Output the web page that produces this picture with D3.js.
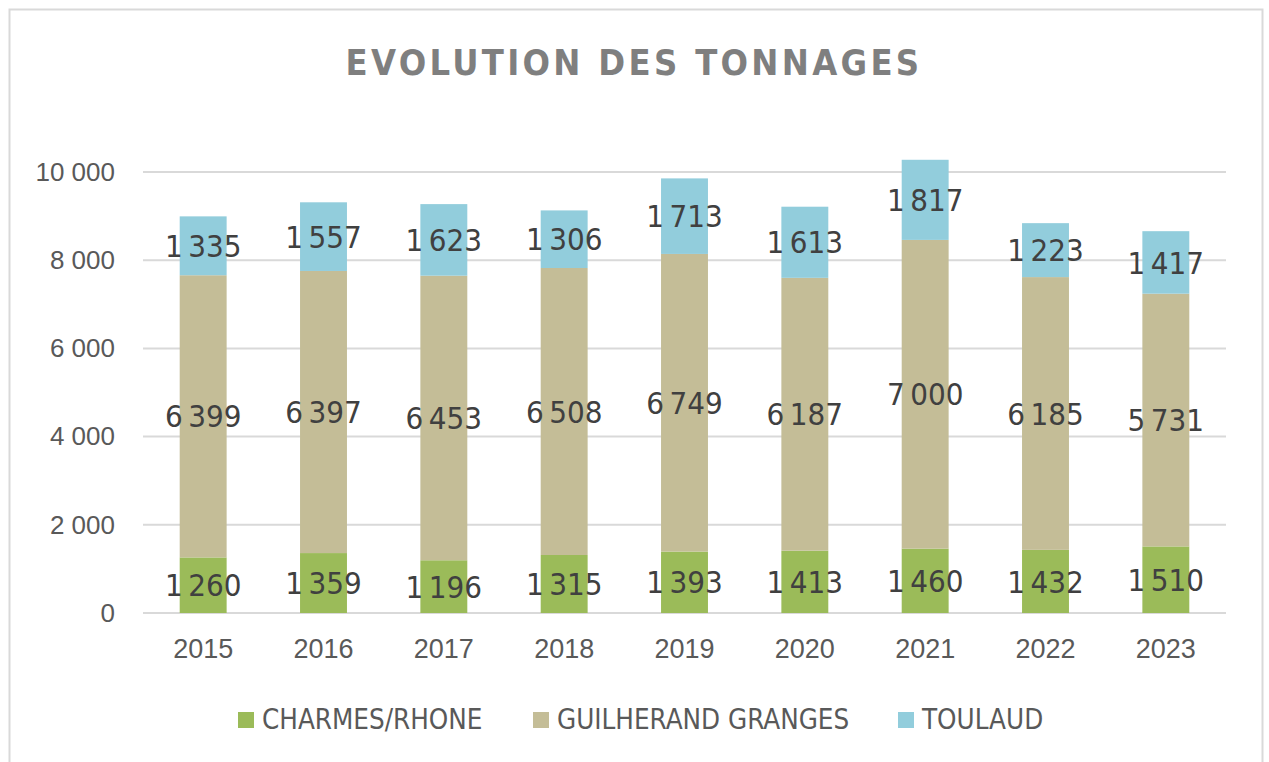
<!DOCTYPE html>
<html>
<head>
<meta charset="utf-8">
<script src="https://cdn.jsdelivr.net/npm/d3@7"></script>
<style>
  body { margin: 0; background: #fff; }
  svg { display: block; font-family: "DejaVu Sans Condensed", "DejaVu Sans", sans-serif; }
</style>
</head>
<body>
<svg id="chart"></svg>
<script>
// Tonnages per commune, 2015-2023
const years = ["2015", "2016", "2017", "2018", "2019", "2020", "2021", "2022", "2023"];
const charmes = [1260, 1359, 1196, 1315, 1393, 1413, 1460, 1432, 1510];
const guilherand = [6399, 6397, 6453, 6508, 6749, 6187, 7000, 6185, 5731];
const toulaud = [1335, 1557, 1623, 1306, 1713, 1613, 1817, 1223, 1417];
const seriesNames = ["CHARMES/RHONE", "GUILHERAND GRANGES", "TOULAUD"];
const yTicks = [0, 2000, 4000, 6000, 8000, 10000];

const colors = ["#9bbb59", "#c4bd97", "#92cddc"];
const width = 1269, height = 762;

const svg = d3.select("#chart")
    .attr("width", width)
    .attr("height", height);

// chart frame
svg.append("rect")
    .attr("x", 9.5).attr("y", 9.5)
    .attr("width", 1253).attr("height", 770)
    .attr("fill", "#fff")
    .attr("stroke", "#d9d9d9")
    .attr("stroke-width", 2);

// title
svg.append("text")
    .attr("x", 634).attr("y", 75)
    .attr("text-anchor", "middle")
    .attr("fill", "#7f7f7f")
    .attr("font-weight", "bold")
    .attr("font-size", 36)
    .attr("letter-spacing", 3.3)
    .text("EVOLUTION DES TONNAGES");

const x = d3.scaleBand()
    .domain(years)
    .range([143, 1226])
    .paddingInner(0.61)
    .paddingOuter(0.305);

const y = d3.scaleLinear()
    .domain([0, 10000])
    .range([613, 172]);

const fmt = v => d3.format(",")(v).replace(/,/g, " ");
const fmtThin = v => d3.format(",")(v).replace(/,/g, "\u2009");

// gridlines
svg.append("g")
    .selectAll("line")
    .data(yTicks)
    .join("line")
    .attr("x1", 143).attr("x2", 1226)
    .attr("y1", d => y(d)).attr("y2", d => y(d))
    .attr("stroke", "#d9d9d9")
    .attr("stroke-width", 2);

// y axis labels
const yAxis = svg.append("g")
    .attr("transform", "translate(143,0)")
    .call(d3.axisLeft(y).tickValues(yTicks).tickFormat(fmt).tickSize(0).tickPadding(28));
yAxis.select(".domain").remove();
yAxis.selectAll("text")
    .attr("fill", "#595959")
    .attr("font-size", 26)
    .attr("font-family", "'Liberation Sans', Arial, sans-serif");

// x axis labels
const xAxis = svg.append("g")
    .attr("transform", "translate(0,613)")
    .call(d3.axisBottom(x).tickSize(0).tickPadding(26));
xAxis.select(".domain").remove();
xAxis.selectAll("text")
    .attr("fill", "#595959")
    .attr("font-size", 27)
    .attr("font-family", "'Liberation Sans', Arial, sans-serif");

// stack the series
const rows = years.map((yr, i) => ({ year: yr, c: charmes[i], g: guilherand[i], t: toulaud[i] }));
const stack = d3.stack().keys(["c", "g", "t"])(rows);

const layers = svg.append("g")
    .selectAll("g")
    .data(stack)
    .join("g")
    .attr("fill", (d, i) => colors[i]);

layers.selectAll("rect")
    .data(d => d)
    .join("rect")
    .attr("x", d => x(d.data.year))
    .attr("width", x.bandwidth())
    .attr("y", d => y(d[1]))
    .attr("height", d => y(d[0]) - y(d[1]));

// value labels
const labels = svg.append("g");
stack.forEach(layer => {
    labels.selectAll(null)
        .data(layer)
        .join("text")
        .attr("x", d => x(d.data.year) + x.bandwidth() / 2)
        .attr("y", d => y((d[0] + d[1]) / 2))
        .attr("dy", "0.36em")
        .attr("text-anchor", "middle")
        .attr("fill", "#404040")
        .attr("font-size", 31)
        .text(d => fmtThin(d[1] - d[0]));
});

// legend
const legendX = [238, 533, 898];
const legend = svg.append("g")
    .selectAll("g")
    .data(seriesNames)
    .join("g")
    .attr("transform", (d, i) => `translate(${legendX[i]},712)`);
legend.append("rect")
    .attr("width", 16).attr("height", 16)
    .attr("fill", (d, i) => colors[i]);
legend.append("text")
    .attr("x", 24).attr("y", 17)
    .attr("fill", "#595959")
    .attr("font-size", 27.5)
    .text(d => d);
</script>
</body>
</html>
